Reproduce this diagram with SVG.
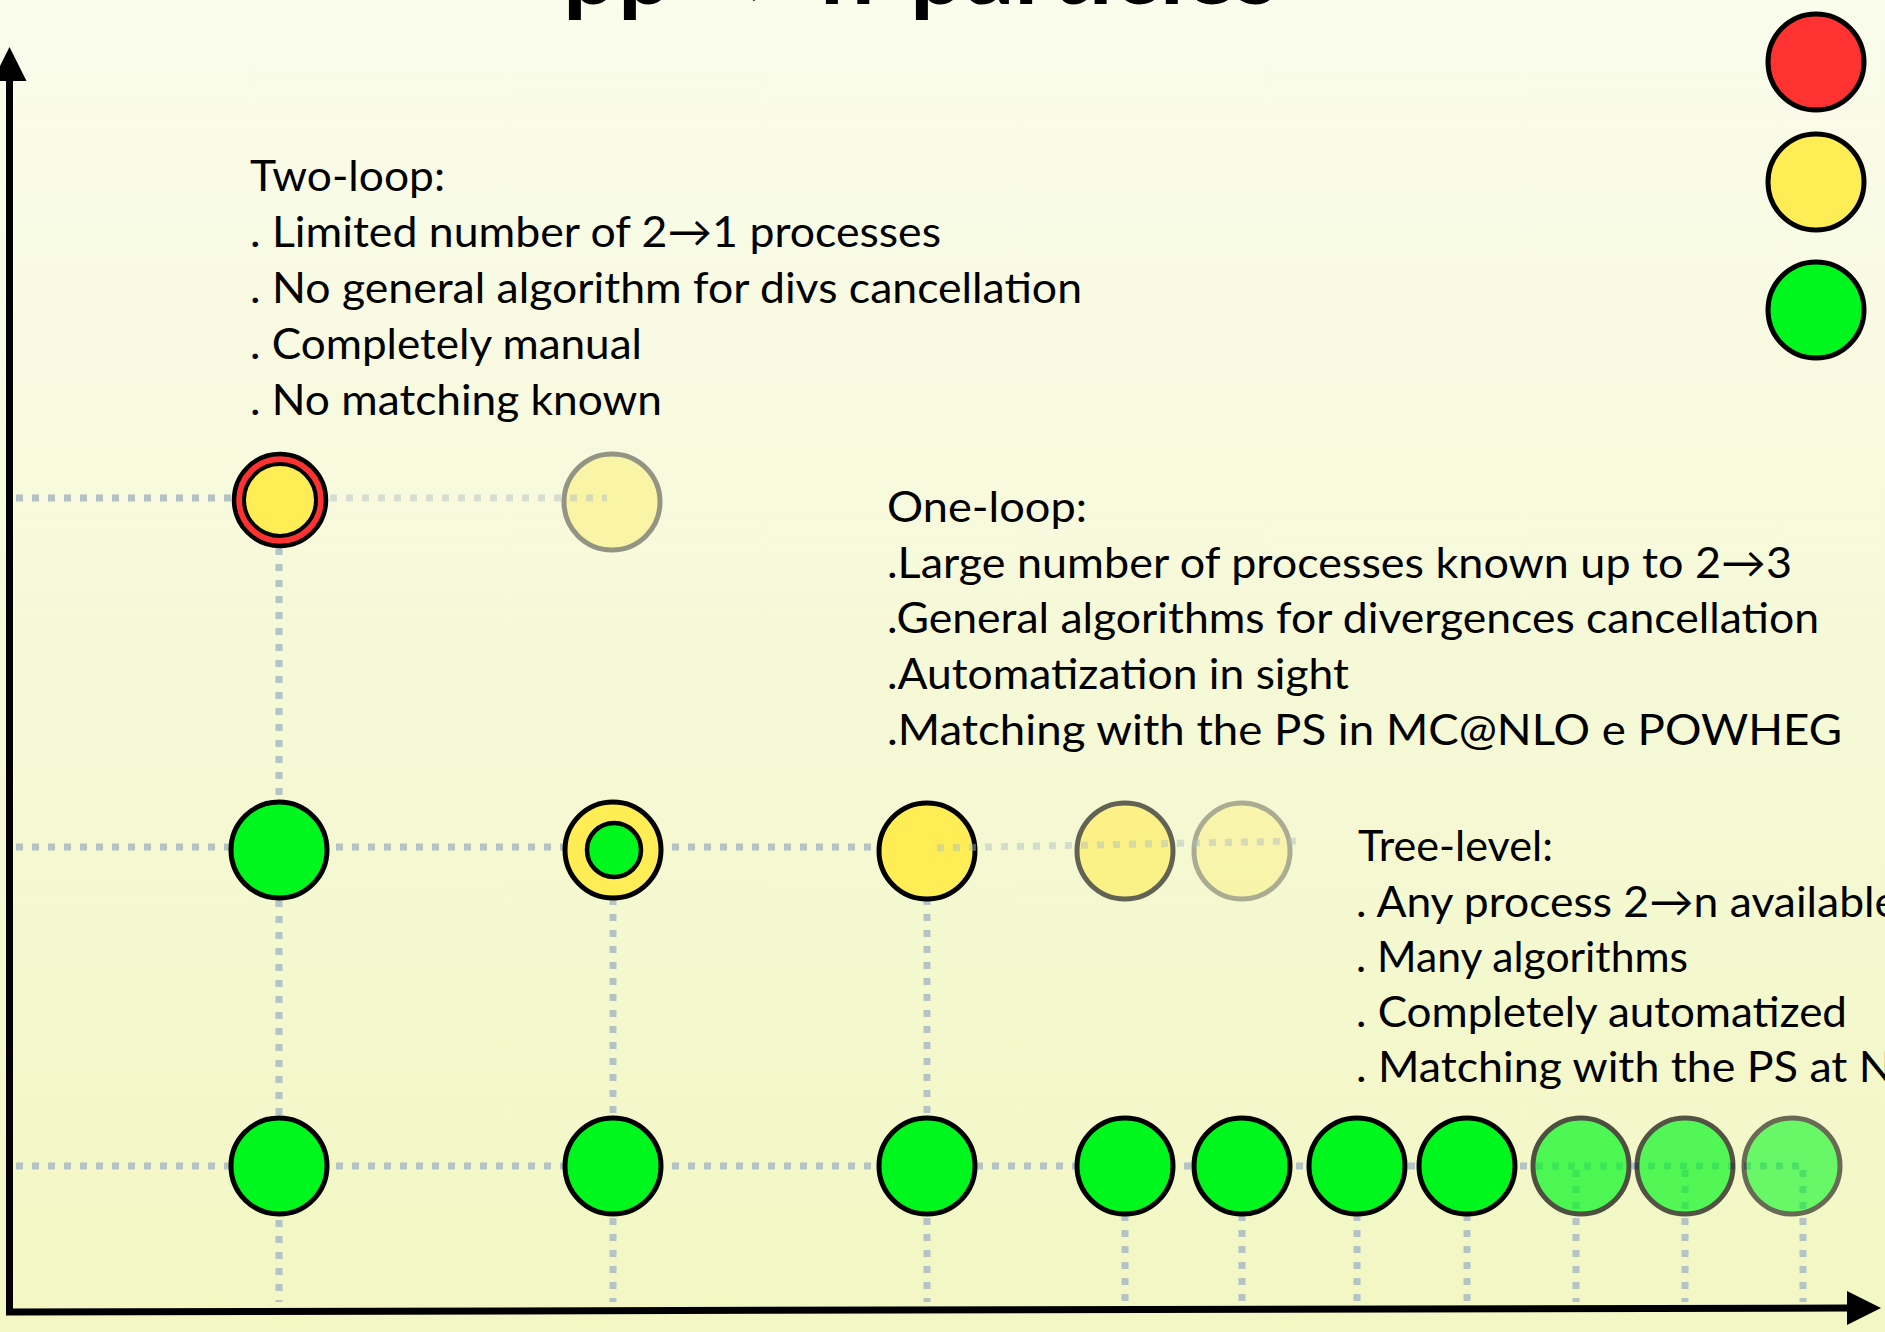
<svg xmlns="http://www.w3.org/2000/svg" width="1885" height="1332" viewBox="0 0 1885 1332">
  <defs>
    <linearGradient id="bg" x1="0" y1="0" x2="0" y2="1">
      <stop offset="0" stop-color="#fafcec"/>
      <stop offset="0.5" stop-color="#f6f9d7"/>
      <stop offset="1" stop-color="#f2f7c3"/>
    </linearGradient>
    <marker id="arrow" markerUnits="userSpaceOnUse" viewBox="0 0 34 34" markerWidth="34" markerHeight="34" refX="0" refY="17" orient="auto">
      <path d="M0,0 L34,17 L0,34 z" fill="#000"/>
    </marker>
    <style>
      .t { font-family: Lato, "Noto Sans", "DejaVu Sans", sans-serif; font-size: 43px; fill: #000; }
      .title { font-family: Lato, "Noto Sans", "DejaVu Sans", sans-serif; font-size: 97px; font-weight: bold; fill: #000; }
      .dot { fill: none; stroke: #b3c3c6; stroke-width: 7; stroke-dasharray: 7 9; }
      .dot-light { fill: none; stroke: #a8bcc4; stroke-width: 7; stroke-dasharray: 7 9; opacity: 0.45; }
      .c { stroke: #000; stroke-width: 5; }
      .red { fill: #ff3232; }
      .yel { fill: #ffed55; }
      .grn { fill: #00f71d; }
      .axis { stroke: #000; stroke-width: 7; fill: none; marker-end: url(#arrow); }
    </style>
  </defs>

  <!-- background -->
  <rect x="0" y="0" width="1885" height="1332" fill="url(#bg)"/>

  <!-- title, mostly above the top edge -->
  <text class="title" y="4"><tspan x="563">pp</tspan><tspan x="690">→</tspan><tspan x="820">n</tspan><tspan x="910">particles</tspan></text>

  <!-- dotted guide lines -->
  <g id="connectors">
    <!-- rows -->
    <line class="dot" x1="16" y1="498" x2="234" y2="498"/>
    <line class="dot" x1="16" y1="847" x2="877" y2="847"/>
    <line class="dot" x1="16" y1="1166" x2="1803" y2="1166"/>
    <!-- columns -->
    <line class="dot" x1="279" y1="548" x2="279" y2="1302"/>
    <line class="dot" x1="613" y1="898" x2="613" y2="1302"/>
    <line class="dot" x1="927" y1="898" x2="927" y2="1302"/>
    <line class="dot" x1="1125" y1="1214" x2="1125" y2="1302"/>
    <line class="dot" x1="1242" y1="1214" x2="1242" y2="1302"/>
    <line class="dot" x1="1357" y1="1214" x2="1357" y2="1302"/>
    <line class="dot" x1="1467" y1="1214" x2="1467" y2="1302"/>
    <line class="dot" x1="1576" y1="1170" x2="1576" y2="1302"/>
    <line class="dot" x1="1685" y1="1170" x2="1685" y2="1302"/>
    <line class="dot" x1="1803" y1="1170" x2="1803" y2="1302"/>
  </g>

  <!-- axes -->
  <g id="axes">
    <line class="axis" x1="9.5" y1="1313" x2="9.5" y2="81"/>
    <line class="axis" x1="6" y1="1312" x2="1847" y2="1308"/>
  </g>

  <!-- legend -->
  <g id="legend">
    <circle class="c red" cx="1816" cy="62" r="48"/>
    <circle class="c yel" cx="1816" cy="182" r="48"/>
    <circle class="c grn" cx="1816" cy="310" r="48"/>
  </g>

  <!-- two-loop row -->
  <g id="two-loop-1">
    <circle cx="280" cy="500" r="46" fill="#ff3232" stroke="#000" stroke-width="4.5"/>
    <circle cx="280" cy="500" r="36" fill="#ffed55" stroke="#000" stroke-width="4"/>
  </g>
  <g id="two-loop-2" opacity="0.4">
    <circle class="c yel" cx="612" cy="502" r="48"/>
  </g>

  <!-- one-loop row -->
  <g id="one-loop-1"><circle class="c grn" cx="279" cy="850" r="48"/></g>
  <g id="one-loop-2">
    <circle class="c yel" cx="613" cy="850" r="48"/>
    <circle cx="614" cy="850" r="27" fill="#00f71d" stroke="#000" stroke-width="4.5"/>
  </g>
  <g id="one-loop-3"><circle class="c yel" cx="927" cy="851" r="48"/></g>
  <g id="one-loop-4" opacity="0.6"><circle class="c yel" cx="1125" cy="851" r="48"/></g>
  <g id="one-loop-5" opacity="0.3"><circle class="c yel" cx="1242" cy="851" r="48"/></g>

  <!-- tree-level row -->
  <g id="tree-1"><circle class="c grn" cx="279" cy="1166" r="48"/></g>
  <g id="tree-2"><circle class="c grn" cx="613" cy="1166" r="48"/></g>
  <g id="tree-3"><circle class="c grn" cx="927" cy="1166" r="48"/></g>
  <g id="tree-4"><circle class="c grn" cx="1125" cy="1166" r="48"/></g>
  <g id="tree-5"><circle class="c grn" cx="1242" cy="1166" r="48"/></g>
  <g id="tree-6"><circle class="c grn" cx="1357" cy="1166" r="48"/></g>
  <g id="tree-7"><circle class="c grn" cx="1467" cy="1166" r="48"/></g>
  <g id="tree-8" opacity="0.68"><circle class="c grn" cx="1581" cy="1166" r="48"/></g>
  <g id="tree-9" opacity="0.66"><circle class="c grn" cx="1685" cy="1166" r="48"/></g>
  <g id="tree-10" opacity="0.57"><circle class="c grn" cx="1792" cy="1166" r="48"/></g>

  <!-- faint continuation lines drawn over the circles -->
  <g id="connectors-faint">
    <line class="dot-light" x1="330" y1="498" x2="607" y2="498"/>
    <line class="dot-light" x1="937" y1="848" x2="1297" y2="841"/>
  </g>

  <!-- descriptions -->
  <g id="text-two-loop">
    <text class="t" x="250" y="191" textLength="195" lengthAdjust="spacingAndGlyphs">Two-loop:</text>
    <text class="t" x="250" y="247" textLength="691" lengthAdjust="spacingAndGlyphs">. Limited number of 2→1 processes</text>
    <text class="t" x="250" y="303" textLength="832" lengthAdjust="spacingAndGlyphs">. No general algorithm for divs cancellation</text>
    <text class="t" x="250" y="359" textLength="392" lengthAdjust="spacingAndGlyphs">. Completely manual</text>
    <text class="t" x="250" y="415" textLength="412" lengthAdjust="spacingAndGlyphs">. No matching known</text>
  </g>
  <g id="text-one-loop">
    <text class="t" x="887" y="522" textLength="200" lengthAdjust="spacingAndGlyphs">One-loop:</text>
    <text class="t" x="887" y="578" textLength="905" lengthAdjust="spacingAndGlyphs">.Large number of processes known up to 2→3</text>
    <text class="t" x="887" y="633" textLength="932" lengthAdjust="spacingAndGlyphs">.General algorithms for divergences cancellation</text>
    <text class="t" x="887" y="689" textLength="462" lengthAdjust="spacingAndGlyphs">.Automatization in sight</text>
    <text class="t" x="887" y="745" textLength="955" lengthAdjust="spacingAndGlyphs">.Matching with the PS in MC@NLO e POWHEG</text>
  </g>
  <g id="text-tree">
    <text class="t" x="1358" y="861" textLength="195" lengthAdjust="spacingAndGlyphs">Tree-level:</text>
    <text class="t" x="1356" y="917" textLength="542" lengthAdjust="spacingAndGlyphs">. Any process 2→n available</text>
    <text class="t" x="1356" y="972" textLength="332" lengthAdjust="spacingAndGlyphs">. Many algorithms</text>
    <text class="t" x="1356" y="1027" textLength="491" lengthAdjust="spacingAndGlyphs">. Completely automatized</text>
    <text class="t" x="1356" y="1082" textLength="537" lengthAdjust="spacingAndGlyphs">. Matching with the PS at N</text>
  </g>
</svg>
